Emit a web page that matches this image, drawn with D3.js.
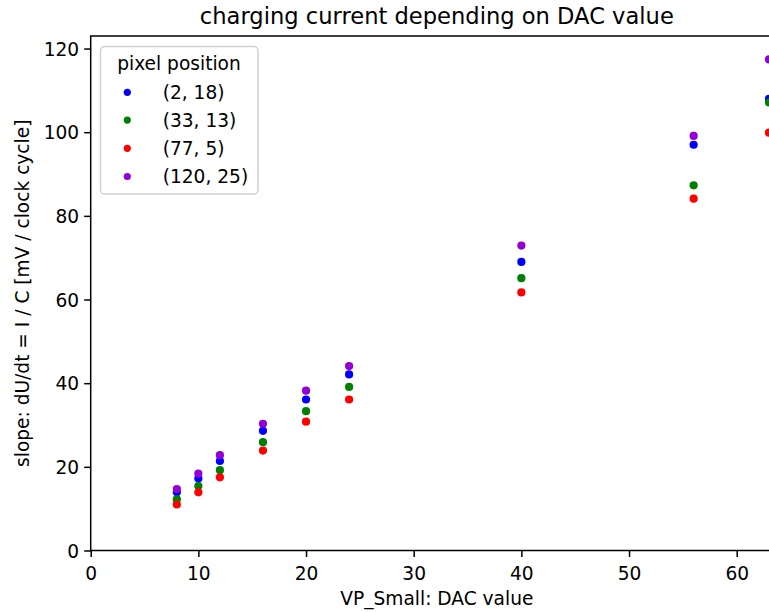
<!DOCTYPE html>
<html>
<head>
<meta charset="utf-8">
<script src="https://cdn.jsdelivr.net/npm/d3@7"></script>
<style>
  html, body { margin: 0; padding: 0; background: #fff; }
  svg text { font-family: "DejaVu Sans", sans-serif; fill: #000; }
</style>
</head>
<body>
<svg id="chart" width="769" height="612"></svg>
<script>
// DAC settings at which the slope was measured
const dacValues = [8, 10, 12, 16, 20, 24, 40, 56, 63];

// Measured slope per pixel position [mV / clock cycle]
const seriesLabels = ["(2, 18)", "(33, 13)", "(77, 5)", "(120, 25)"];
const seriesColors = ["#0000ff", "#008000", "#ff0000", "#9400d3"];
const slope_2_18   = [13.9, 17.2, 21.4, 28.6, 36.1, 42.1, 69.0, 97.0, 108.0];
const slope_33_13  = [12.2, 15.4, 19.2, 25.9, 33.3, 39.1, 65.1, 87.3, 107.1];
const slope_77_5   = [11.0, 13.9, 17.5, 23.9, 30.8, 36.1, 61.7, 84.1, 99.9];
const slope_120_25 = [14.7, 18.4, 22.8, 30.3, 38.2, 44.1, 72.9, 99.1, 117.4];
const seriesValues = [slope_2_18, slope_33_13, slope_77_5, slope_120_25];

const xTicks = [0, 10, 20, 30, 40, 50, 60];
const yTicks = [0, 20, 40, 60, 80, 100, 120];

const svg = d3.select("#chart");
const plotL = 90.7, plotR = 783, plotT = 36, plotB = 550.5;
const fs = 18.6;

const x = d3.scaleLinear().domain([0, 64.3]).range([plotL, plotR]);
const y = d3.scaleLinear().domain([0, 123]).range([plotB, plotT]);

// clip region for the data points
svg.append("defs").append("clipPath").attr("id", "plotclip")
  .append("rect").attr("x", plotL).attr("y", plotT)
  .attr("width", plotR - plotL).attr("height", plotB - plotT);

// points
const pts = svg.append("g").attr("clip-path", "url(#plotclip)");
seriesValues.forEach((vals, si) => {
  pts.selectAll(null).data(vals).enter().append("circle")
    .attr("cx", (d, i) => x(dacValues[i]))
    .attr("cy", d => y(d))
    .attr("r", 4.1)
    .attr("fill", seriesColors[si]);
});

// axes
const xAxis = d3.axisBottom(x).tickValues(xTicks).tickSize(6.5).tickPadding(5.5).tickFormat(d3.format("d"));
const yAxis = d3.axisLeft(y).tickValues(yTicks).tickSize(6.5).tickPadding(5).tickFormat(d3.format("d"));

const gx = svg.append("g").attr("transform", `translate(0,${plotB})`).call(xAxis);
const gy = svg.append("g").attr("transform", `translate(${plotL},0)`).call(yAxis);
[gx, gy].forEach(g => {
  g.select(".domain").remove();
  g.selectAll(".tick line").attr("stroke", "#000").attr("stroke-width", 1.5);
  g.selectAll(".tick text").attr("font-size", fs).attr("font-family", "DejaVu Sans").attr("fill", "#000");
});
gx.selectAll(".tick text").attr("dy", null).attr("y", 29);
gy.selectAll(".tick text").attr("dy", "0.35em");

// spines
const spine = svg.append("g").attr("fill", "none").attr("stroke", "#000").attr("stroke-width", 1.5);
spine.append("rect").attr("x", plotL).attr("y", plotT).attr("width", plotR - plotL).attr("height", plotB - plotT);

// title and axis labels
const cx = (plotL + plotR) / 2;
svg.append("text").attr("x", cx).attr("y", 24).attr("text-anchor", "middle")
  .attr("font-size", 22.6).text("charging current depending on DAC value");
svg.append("text").attr("x", cx).attr("y", 605).attr("text-anchor", "middle")
  .attr("font-size", fs).text("VP_Small: DAC value");
svg.append("text").attr("transform", `translate(29,${(plotT + plotB) / 2}) rotate(-90)`)
  .attr("text-anchor", "middle").attr("font-size", fs)
  .text("slope: dU/dt = I / C [mV / clock cycle]");

// legend
const lg = svg.append("g");
lg.append("rect").attr("x", 100.5).attr("y", 46.5).attr("width", 157.5).attr("height", 147.5)
  .attr("rx", 4).attr("fill", "#fff").attr("fill-opacity", 0.8)
  .attr("stroke", "#d0d0d0").attr("stroke-width", 1.5);
lg.append("text").attr("x", 179).attr("y", 69.5).attr("text-anchor", "middle")
  .attr("font-size", fs).text("pixel position");
const rowY = [92.3, 120.1, 148.3, 176.5];
seriesLabels.forEach((lab, i) => {
  lg.append("circle").attr("cx", 127.3).attr("cy", rowY[i]).attr("r", 3.6).attr("fill", seriesColors[i]);
  lg.append("text").attr("x", 162.7).attr("y", rowY[i] + 6.4).attr("font-size", fs).text(lab);
});
</script>
</body>
</html>
